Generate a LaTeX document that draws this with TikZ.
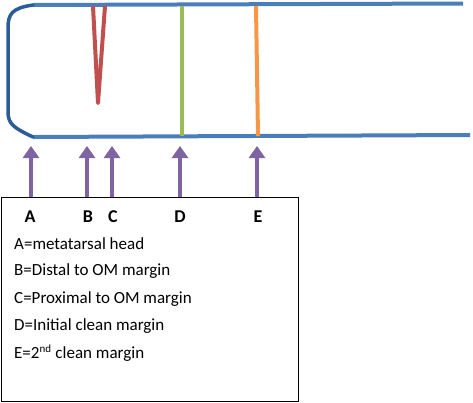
\documentclass[tikz,border=0pt]{standalone}
\usepackage{fontspec}
\setmainfont{Carlito}
\definecolor{boneblue}{HTML}{4A7EBB}
\definecolor{bonedark}{HTML}{2C5C98}
\definecolor{omred}{HTML}{C0504D}
\definecolor{cleangreen}{HTML}{9BBB59}
\definecolor{cleanorange}{HTML}{F79646}
\definecolor{markpurple}{HTML}{8064A2}
\tikzset{
  bone/.style={boneblue,line width=4pt},
  cut/.style={line width=4pt},
  pointer/.style={markpurple,line width=3.5pt,-{Triangle[width=16pt,length=12pt]}},
  letter/.style={font=\fontsize{18}{20}\selectfont\bfseries},
  legend/.style={font=\fontsize{17}{24}\selectfont,anchor=west,inner sep=0pt}
}
\usetikzlibrary{arrows.meta}
\begin{document}
\begin{tikzpicture}[x=1pt,y=-1pt]
    \useasboundingbox (0,0) rectangle (473,402);

    % Define parameters
    \def\ytop{5}
    \def\ybot{136}
    \def\yarr{197}

    % Bone outline
    \draw[bone] (33,\ytop) -- (463,3.5);
    \draw[bone] (33,\ybot+1) -- (470,135);
    \draw[bonedark,line width=3.5pt,line cap=round] (33,\ytop) .. controls (12,8) and (8,14) .. (8,28)
        -- (8,112) .. controls (8,124) and (14,128) .. (33,137);

    % Margins
    \draw[omred,cut,line join=round] (93,\ytop+1) -- (98,103) -- (105,\ytop+1);
    \draw[cleangreen,cut] (182,\ytop+1) -- (182,\ybot);
    \draw[cleanorange,cut] (256,\ytop+1) -- (258,\ybot);

    % Legend box
    \node[draw,line width=1.3pt,minimum width=297pt,minimum height=204pt,anchor=north west,inner sep=0pt] (box) at (1,197) {};

    % Letters
    \node[letter] (labA) at (30,217) {A};
    \node[letter] (labB) at (88,217) {B};
    \node[letter] (labC) at (113,217) {C};
    \node[letter] (labD) at (180,217) {D};
    \node[letter] (labE) at (258,217) {E};

    % Arrows
    \foreach \n/\x in {A/31,B/87,C/112,D/180,E/257}{
        \coordinate (foot\n) at (\x,\yarr);
        \coordinate (tip\n) at (\x,146);
        \draw[pointer] (foot\n) -- (tip\n);
    }

    % Legend text
    \node[legend] (keyA) at (14,244) {A=metatarsal head};
    \node[legend] (keyB) at (14,271.5) {B=Distal to OM margin};
    \node[legend] (keyC) at (14,299) {C=Proximal to OM margin};
    \node[legend] (keyD) at (14,326) {D=Initial clean margin};
    \node[legend] (keyE) at (14,353) {E=2\textsuperscript{\fontsize{11}{12}\selectfont nd} clean margin};
\end{tikzpicture}
\end{document}
